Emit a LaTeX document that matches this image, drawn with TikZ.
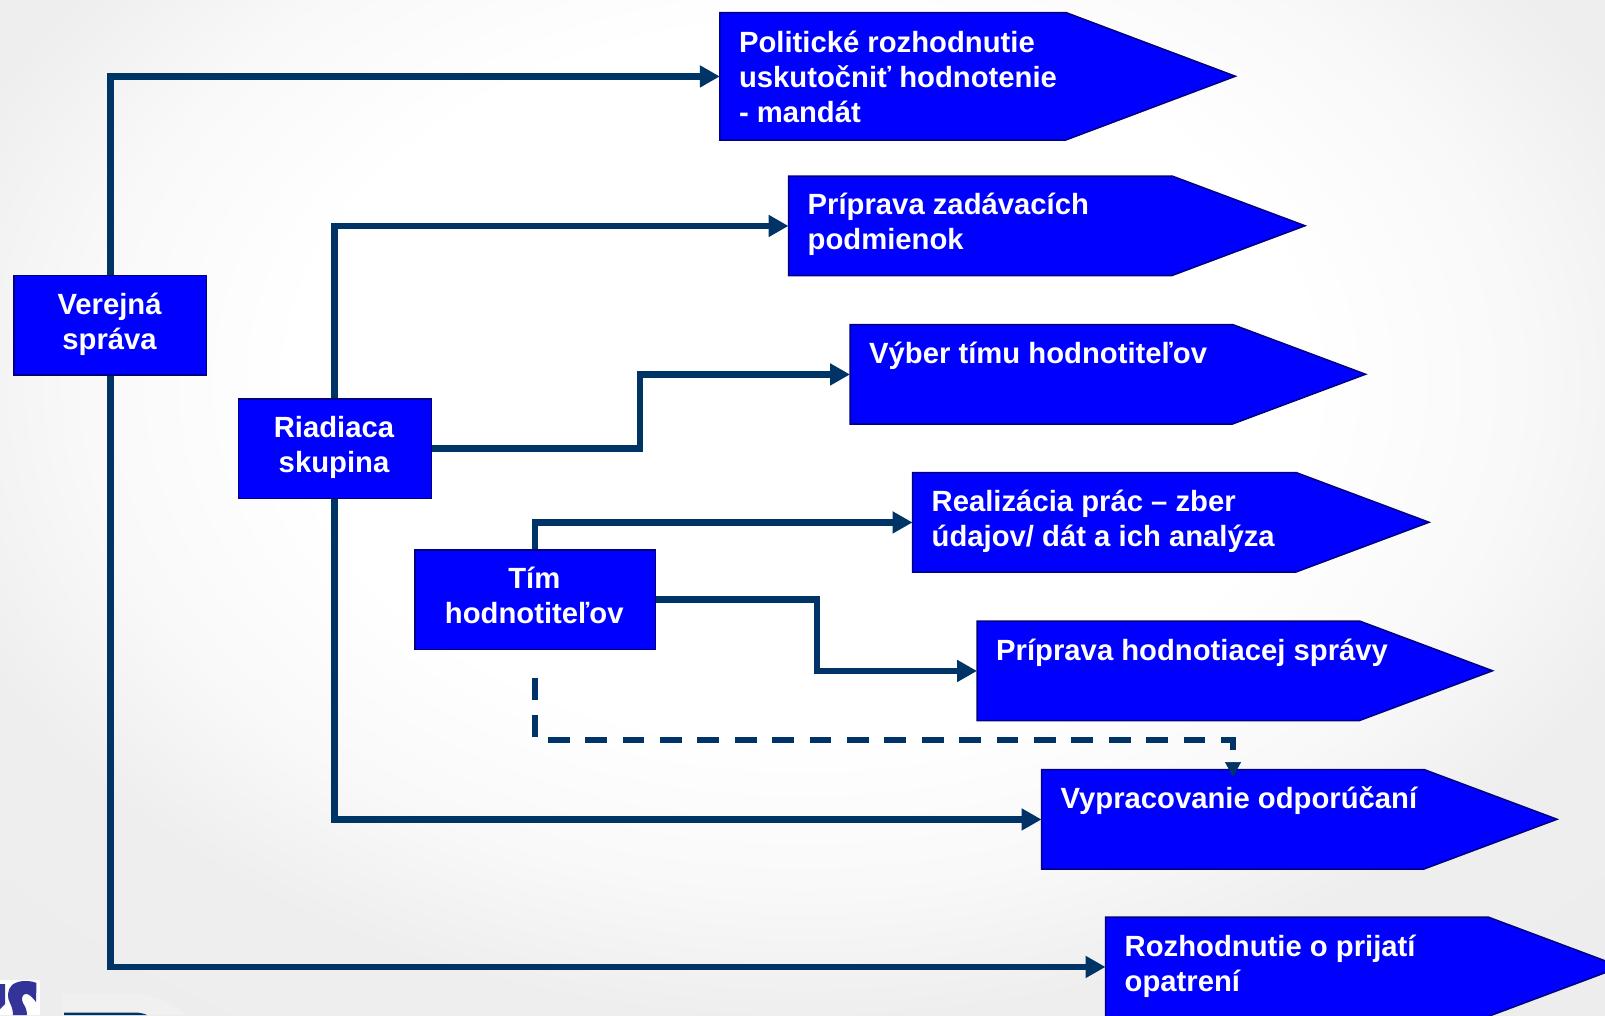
\documentclass[tikz,border=0pt]{standalone}
\usepackage{fontspec}
\setmainfont{Liberation Sans}
\usetikzlibrary{arrows.meta}
\definecolor{linkblue}{HTML}{003366}
\definecolor{boxblue}{HTML}{0000FF}
\definecolor{boxedge}{HTML}{000080}
\definecolor{logopurple}{HTML}{333399}
\pgfdeclareradialshading{slidebg}{\pgfpoint{0bp}{0bp}}{%
  color(0bp)=(white);color(14bp)=(white);color(20bp)=(black!2.5);color(25bp)=(black!6.5);color(50bp)=(black!8.5)}
\newcommand\labelfont{\fontsize{29.25}{35}\selectfont\bfseries}
\tikzset{
  x=1pt,y=-1pt,
  bodybox/.style={inner sep=0pt,anchor=north west},
  actor/.style={draw=boxedge,line width=1.5pt,fill=boxblue,inner sep=0pt,anchor=north west,
    minimum width=192.5pt,minimum height=99.5pt},
  penta/.style={draw=boxedge,line width=1.5pt,fill=boxblue,line join=miter},
  tasktext/.style={inner sep=0pt,anchor=base west,text=white,font=\labelfont},
  actortext/.style={inner sep=0pt,anchor=base,text=white,font=\labelfont},
  link/.style={draw=linkblue,line width=6.8pt,-{Triangle[length=20pt,width=21pt]}},
  dashlink/.style={draw=linkblue,line width=5.5pt,dash pattern=on 21.7pt off 15.7pt},
  headlink/.style={draw=linkblue,line width=0.5pt,-{Triangle[length=15pt,width=16pt]}},
}
% #1 name, #2 x, #3 y, #4 body width, #5 pointer length, #6 height, #7 baseline offset, #8 text
\newcommand\taskbox[8]{%
  \path[penta] (#2,#3) -- ++(#4,0) -- ++(#5,#6/2) -- ++(-#5,#6/2) -- ++(-#4,0) -- cycle;
  \node[bodybox,minimum width=#4 pt,minimum height=#6 pt] (#1) at (#2,#3) {};
  \node[tasktext] (#1T) at (#2+19,#3+#7) {\parbox[t]{480pt}{\raggedright #8}};
}
% #1 name, #2 x, #3 y, #4 width, #5 baseline offset, #6 text
\newcommand\actorbox[6]{%
  \node[actor,minimum width=#4 pt] (#1) at (#2,#3) {};
  \node[actortext] (#1T) at (#2+#4/2,#3+#5) {\parbox[t]{#4 pt}{\centering #6}};
}
\begin{document}
\begin{tikzpicture}
\useasboundingbox (0,0) rectangle (1605,1015);
\clip (0,0) rectangle (1605,1015);
\shade[shading=slidebg] (-100,-250) rectangle (1705,1015);

% logo fragments
\fill[white] (0,980) rectangle (40,1015);
\fill[logopurple] (0,984) -- (5,984) -- (5,1004) -- (0,1009) -- cycle;
\fill[logopurple] (36.5,983) .. controls (30,980) and (18,980) .. (12,985)
  .. controls (7,990) and (7,998) .. (10,1003) .. controls (12,1007) and (13,1011) .. (13,1015)
  -- (27,1015) .. controls (27,1010) and (25,1006) .. (23,1003)
  .. controls (21,999) and (22,995) .. (25,994) .. controls (29,993) and (33,998) .. (36,1002) -- cycle;
\fill[blue!8!black!6] (62,994) -- (140,994) .. controls (160,996) and (175,1005) .. (185,1015) -- (62,1015) -- cycle;
\fill[linkblue] (64,1012.5) -- (135,1012.5) .. controls (140,1012.5) and (145,1014) .. (147,1015) -- (64,1015) -- cycle;

\taskbox{polit}{719.8}{12.5}{346}{169.5}{127.5}{40}{Politické rozhodnutie\\uskutočniť hodnotenie\\- mandát}
\taskbox{zad}{788.5}{176}{383.5}{133}{99.5}{38.5}{Príprava zadávacích\\podmienok}
\taskbox{vyber}{850}{324.5}{382.5}{133}{99.5}{39}{Výber tímu hodnotiteľov}
\taskbox{real}{912.5}{472.5}{383.5}{133}{99.5}{39}{Realizácia prác – zber\\údajov/ dát a ich analýza}
\taskbox{sprava}{977}{621}{382.5}{133}{99.5}{39.5}{Príprava hodnotiacej správy}
\taskbox{odpor}{1041.5}{769.5}{382.5}{133}{99.5}{39}{Vypracovanie odporúčaní}
\taskbox{rozh}{1105.5}{917}{382.5}{133}{99.5}{39.5}{Rozhodnutie o prijatí\\opatrení}

\actorbox{vs}{13.3}{274.5}{192.5}{40}{Verejná\\správa}
\actorbox{rs}{237.5}{398}{193}{39}{Riadiaca\\skupina}
\actorbox{th}{414}{549}{240.5}{39}{Tím\\hodnotiteľov}

\coordinate (dashstart) at (th.south |- 0,678);
\coordinate (dashelbow) at (dashstart |- 0,740);
\coordinate (dashcorner) at (1233,740);
\coordinate (dashend) at (1233,749.5);
\coordinate (headbase) at (1233,762);
\coordinate (headtip) at (1233,777);
\coordinate (bendA) at (640,0);
\coordinate (bendB) at (817,0);

\path[link] (vs.north) |- (polit.west);
\path[link] (vs.south) |- (rozh.west);
\path[link] (rs.north) |- (zad.west);
\path[link] (rs.south) |- (odpor.west);
\path[link] (rs.east) -- (rs.east -| bendA) |- (vyber.west);
\path[link] (th.north) |- (real.west);
\path[link] (th.east) -- (th.east -| bendB) |- (sprava.west);
\path[dashlink] (dashstart) -- (dashelbow) -- (dashcorner) -- (dashend);
\path[headlink] (headbase) -- (headtip);
\end{tikzpicture}
\end{document}
